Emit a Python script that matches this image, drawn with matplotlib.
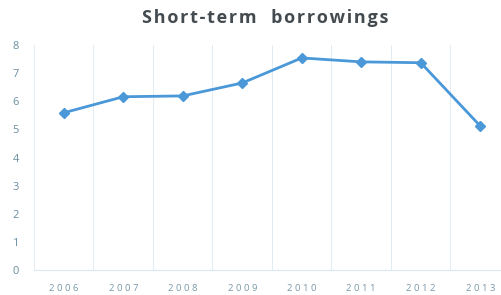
import matplotlib
matplotlib.use("Agg")
import matplotlib.pyplot as plt
import numpy as np

years = ["2006", "2007", "2008", "2009", "2010", "2011", "2012", "2013"]
borrowings = [5.59, 6.16, 6.19, 6.65, 7.54, 7.40, 7.37, 5.12]
yticks = [0, 1, 2, 3, 4, 5, 6, 7, 8]
title = "Short-term  borrowings"

fig = plt.figure(figsize=(5.02, 2.95), dpi=100)
ax = fig.add_axes([34/502, 25/295, 476/502, 225/295])
x = np.arange(len(years))
ax.plot(x, borrowings, color="#4a98d8", lw=2, marker="D", ms=5, mec="#4a98d8", mfc="#4a98d8")
ax.set_xlim(-0.5, len(years) - 0.5)
ax.set_ylim(0, 8)
ax.set_yticks(yticks)
ax.set_xticks(x)
ax.set_xticklabels([" ".join(list(y)) for y in years], fontsize=6.8, color="#7a98a8", family="Open Sans")
ax.set_yticklabels([str(v) for v in yticks], fontsize=8, color="#6a8ea0", family="Open Sans")
ax.set_xticks(np.arange(-0.5, len(years), 1), minor=True)
ax.grid(which="minor", axis="x", color="#e2ecf3", lw=0.7)
ax.tick_params(which="both", length=0)
ax.tick_params(axis="y", pad=11)
ax.tick_params(axis="x", pad=10)
for s in ["top", "right", "left"]:
    ax.spines[s].set_visible(False)
ax.spines["bottom"].set_color("#dbe7f0")
spaced = "\u200a".join(list(title))
fig.text(0.528, 0.94, spaced, ha="center", va="center", fontsize=13,
         fontweight="bold", color="#444b50", family=["Open Sans", "DejaVu Sans"])
fig.savefig("out.png", dpi=100)
